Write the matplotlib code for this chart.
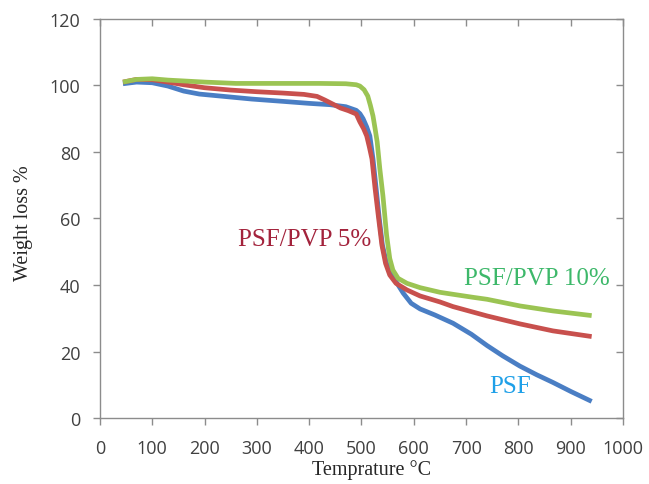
import matplotlib
matplotlib.use("Agg")
import matplotlib.pyplot as plt
from matplotlib.ticker import MultipleLocator

# PSF
t_psf = [44, 70, 100, 130, 160, 190, 230, 290, 350, 400, 440, 470, 490, 497, 503, 510, 516, 522,
         528, 534, 540, 548, 556, 566, 580, 595, 612, 640, 675, 710, 740, 770, 803, 835, 866, 900, 940]
w_psf = [100.5, 101, 100.8, 99.8, 98.3, 97.4, 96.8, 95.9, 95.2, 94.6, 94.2, 93.6, 92.5, 91.5, 90, 87.5,
         84.8, 77.9, 69, 60, 52, 46.5, 43.5, 41, 37.5, 34.5, 32.8, 31, 28.5, 25.2, 21.8, 18.7, 15.6,
         13, 10.7, 8, 5]

# PSF/PVP 5%
t_5 = [44, 70, 100, 130, 160, 200, 250, 300, 350, 390, 415, 430, 445, 460, 475, 490, 497, 504, 510,
       515, 520, 526, 532, 539, 546, 554, 566, 587, 612, 650, 675, 740, 803, 866, 940]
w_5 = [101, 101.8, 101.7, 101, 100.2, 99.3, 98.6, 98.1, 97.7, 97.3, 96.7, 95.6, 94.4, 93.2, 92.4,
       91.4, 89, 87, 84.8, 81.5, 77.9, 69, 61, 52, 46.5, 43, 40.5, 38.5, 36.7, 34.9, 33.5, 30.7,
       28.3, 26.2, 24.5]

# PSF/PVP 10%
t_10 = [44, 70, 100, 130, 200, 260, 350, 420, 470, 490, 497, 505, 512, 517, 522, 526, 530, 535, 541,
        548, 554, 560, 570, 587, 612, 650, 675, 713, 740, 803, 866, 940]
w_10 = [101, 101.8, 102, 101.6, 101, 100.6, 100.6, 100.6, 100.5, 100.2, 99.8, 98.7, 96.8, 94, 90.8,
        87, 83, 75, 66.8, 55, 48, 44.5, 42, 40.5, 39.2, 37.8, 37.2, 36.3, 35.7, 33.7, 32.2, 30.8]

fig = plt.figure(figsize=(6.49, 4.85), dpi=100)
ax = fig.add_axes([0.154, 0.136, 0.806, 0.823])

lw = 3.4
ax.plot(t_psf, w_psf, color="#4A7EC4", lw=lw, solid_capstyle="butt")
ax.plot(t_5, w_5, color="#C8504D", lw=lw, solid_capstyle="butt")
ax.plot(t_10, w_10, color="#9BC453", lw=lw, solid_capstyle="butt")

ax.set_xlim(0, 1000)
ax.set_ylim(0, 120)
ax.xaxis.set_major_locator(MultipleLocator(100))
ax.yaxis.set_major_locator(MultipleLocator(20))

for s in ax.spines.values():
    s.set_color("#8C8C8C")
    s.set_linewidth(1.0)

ax.tick_params(axis="both", which="major", direction="out", length=5, width=1,
               color="#8C8C8C", labelsize=13, labelcolor="#404040")
ax.tick_params(axis="x", pad=10)
ax.tick_params(axis="y", pad=9)
ax.tick_params(top=True, right=True, labeltop=False, labelright=False)
# inward ticks on top and right
for t in ax.xaxis.get_major_ticks():
    t.tick2line.set_marker(3)  # TICKDOWN
for t in ax.yaxis.get_major_ticks():
    t.tick2line.set_marker(0)  # TICKLEFT

for lab in ax.get_xticklabels() + ax.get_yticklabels():
    lab.set_family("Open Sans")

serif = "Liberation Serif"
ax.set_xlabel("Temprature °C", family=serif, fontsize=14.5, color="#262626", va="center")
ax.set_ylabel("Weight loss %", family=serif, fontsize=14.5, color="#262626", va="center")
ax.xaxis.set_label_coords(0.52, -0.128)
ax.yaxis.set_label_coords(-0.147, 0.49)

ax.text(392, 53.8, "PSF/PVP 5%", family=serif, fontsize=18, color="#A3233C",
        ha="center", va="center")
ax.text(836, 42.1, "PSF/PVP 10%", family=serif, fontsize=18, color="#3DB86A",
        ha="center", va="center")
ax.text(784, 9.6, "PSF", family=serif, fontsize=18, color="#1FA0E8",
        ha="center", va="center")

fig.savefig("out.png", dpi=100)
